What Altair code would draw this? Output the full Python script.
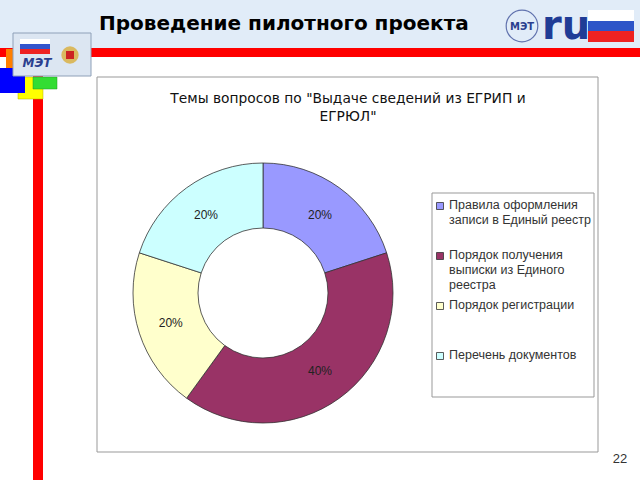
import altair as alt
import pandas as pd

categories = [
    "Правила оформления записи в Единый реестр",
    "Порядок получения выписки из Единого реестра",
    "Порядок регистрации",
    "Перечень документов",
]
legend_labels = [
    "Правила оформления\nзаписи в Единый реестр",
    "Порядок получения\nвыписки из Единого\nреестра",
    "Порядок регистрации",
    "Перечень документов",
]
shares = [20, 40, 20, 20]
pct_labels = ["20%", "40%", "20%", "20%"]
colors = ["#9999FF", "#993366", "#FFFFCC", "#CCFFFF"]
slide_title = "Проведение пилотного проекта"
chart_title = 'Темы вопросов по "Выдаче сведений из ЕГРИП и\nЕГРЮЛ"'
page_number = "22"

df = pd.DataFrame({
    "cat": categories,
    "label": legend_labels,
    "share": shares,
    "pct": pct_labels,
    "order": list(range(len(categories))),
})

one = alt.Data(values=[{}])
cscale = alt.Scale(domain=categories, range=colors)
CX, CY = 263, 293


def box(x1, x2, y1, y2, fill, stroke=None, sw=1):
    kw = dict(fill=fill)
    if stroke:
        kw.update(stroke=stroke, strokeWidth=sw)
    return alt.Chart(one).mark_rect(**kw).encode(
        x=alt.value(x1), x2=alt.value(x2), y=alt.value(y1), y2=alt.value(y2))


def label(txt, x, y, **kw):
    return alt.Chart(one).mark_text(text=txt, **kw).encode(x=alt.value(x), y=alt.value(y))


layers = [
    box(0, 640, 0, 48, "#E1ECF8"),
    box(0, 640, 48, 57, "#FF0000"),
    box(33, 43, 57, 480, "#FF0000"),
    box(6, 13, 49, 68, "#FF7F00"),
    box(18, 43, 77, 99, "#FFFF00", "#B0B000", 0.5),
    box(33, 57, 77, 89, "#33DD33", "#229922", 0.5),
    box(0, 25, 68, 93, "#0000FF"),
    # left logo
    box(13, 91, 33, 76, "#DCE6F2", "#8EA0B8", 1),
    box(20, 50, 39, 44, "#FFFFFF"),
    box(20, 50, 44, 49, "#3355CC"),
    box(20, 50, 49, 54, "#EE2222"),
    label("МЭТ", 37, 63, fontSize=12, fontWeight="bold", fontStyle="italic",
          font="DejaVu Sans", color="#2B3F8F"),
    alt.Chart(one).mark_point(shape="circle", filled=True, size=300, color="#D9A521").encode(
        x=alt.value(70), y=alt.value(55)),
    box(66, 74, 51, 59, "#CC2222"),
    # right logo
    alt.Chart(one).mark_point(shape="circle", filled=False, size=1000, color="#2B3F8F",
                              strokeWidth=1.2).encode(x=alt.value(522), y=alt.value(26)),
    label("МЭТ", 522, 27, fontSize=10, fontWeight="bold", font="DejaVu Sans",
          color="#2B3F8F", baseline="middle"),
    label("ru", 566, 27, fontSize=40, fontWeight="bold", font="DejaVu Sans",
          color="#1F3C96", baseline="middle"),
    box(588, 634, 10, 21, "#FFFFFF"),
    box(588, 634, 21, 31, "#2E55C8"),
    box(588, 634, 31, 42, "#EE2222"),
    # slide title
    label(slide_title, 99, 24, fontSize=20, fontWeight="bold", font="DejaVu Sans",
          color="#000000", align="left", baseline="middle"),
    label(page_number, 620, 459, fontSize=13, font="Liberation Sans", color="#333333",
          baseline="middle"),
    # chart area
    box(97, 598, 77, 452, "#FFFFFF", "#999999", 1),
    label(chart_title, 348, 99, fontSize=13.8, font="DejaVu Sans", color="#111111",
          baseline="middle", lineBreak="\n", lineHeight=18),
    # legend box
    box(432, 594, 193, 397, "#FFFFFF", "#999999", 1),
]

arc = alt.Chart(df).mark_arc(outerRadius=130, innerRadius=65, stroke="#333333",
                             strokeWidth=0.8).encode(
    theta=alt.Theta("share:Q", stack=True),
    color=alt.Color("cat:N", scale=cscale, legend=None),
    order=alt.Order("order:Q"),
    x=alt.value(CX), y=alt.value(CY),
)
pct = alt.Chart(df).mark_text(radius=97, fontSize=12, font="Liberation Sans",
                              color="#222222").encode(
    theta=alt.Theta("share:Q", stack=True),
    text="pct:N",
    order=alt.Order("order:Q"),
    x=alt.value(CX), y=alt.value(CY),
)

leg_y = alt.Y("order:Q", scale=alt.Scale(domain=[0, 3], range=[206, 356]), axis=None)
leg_sym = alt.Chart(df).mark_square(size=49, stroke="#333333", strokeWidth=0.8,
                                    opacity=1).encode(
    x=alt.value(440), y=leg_y,
    fill=alt.Color("cat:N", scale=cscale, legend=None),
)
leg_txt = alt.Chart(df).mark_text(align="left", baseline="top", dy=-7, lineBreak="\n",
                                  lineHeight=15, fontSize=12.5, font="Liberation Sans",
                                  color="#333333").encode(
    x=alt.value(449), y=leg_y, text="label:N",
)

chart = alt.layer(*layers, arc, pct, leg_sym, leg_txt).properties(
    width=640, height=480, padding=0, autosize=alt.AutoSizeParams(type="none"),
).configure_view(stroke=None)

chart.save("out.html", embed_options={"renderer": "svg", "actions": False})
